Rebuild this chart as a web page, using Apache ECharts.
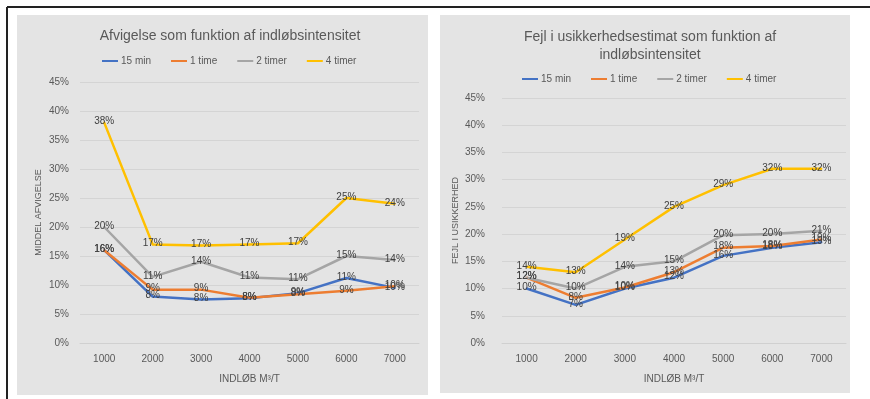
<!DOCTYPE html>
<html><head><meta charset="utf-8">
<script src="https://cdn.jsdelivr.net/npm/echarts@6/dist/echarts.min.js"></script>
<style>html,body{margin:0;padding:0;background:#fff}#c{width:870px;height:399px}</style>
</head><body><div id="c"></div>
<script>
const categories = ['1000','2000','3000','4000','5000','6000','7000'];
const seriesNames = ['15 min','1 time','2 timer','4 timer'];
const colors = ['#4472C4','#ED7D31','#A5A5A5','#FFC000'];
// Left chart: Afvigelse (%)
const left15min = [16, 8, 7.5, 7.7, 8.6, 11.2, 9.5];
const left1time = [16, 9.2, 9.2, 7.8, 8.4, 9, 9.8];
const left2timer = [20, 11.4, 14, 11.3, 11, 15, 14.3];
const left4timer = [38, 17, 16.8, 17, 17.2, 25, 24];
// Right chart: Fejl i usikkerhed (%)
const right15min = [10, 7, 10, 12, 16, 17.5, 18.5];
const right1time = [12, 8.3, 10.2, 13, 17.5, 17.8, 19];
const right2timer = [12, 10, 14, 15, 19.8, 20, 20.6];
const right4timer = [14, 13, 19, 25, 29, 32, 32];
const yTicks = [0,5,10,15,20,25,30,35,40,45];

const leftData = [left15min, left1time, left2timer, left4timer];
const rightData = [right15min, right1time, right2timer, right4timer];
const font = 'Liberation Sans';
const txt = '#595959';

function yAxis(gi, name){
  return {gridIndex: gi, type:'value', min:0, max:45, interval:5,
    name: name, nameLocation:'middle', nameRotate:90, nameGap: gi===0?37:42,
    nameTextStyle:{fontFamily:font,fontSize:9,color:txt},
    axisLabel:{formatter:v=>v+'%', fontFamily:font, fontSize:10, color:txt, margin: gi===0?11:17},
    axisLine:{show:false}, axisTick:{show:false},
    splitLine:{lineStyle:{color:'#d4d4d4',width:1}}};
}
function xAxis(gi){
  return {gridIndex: gi, type:'category', data: categories,
    name:'INDLØB M³/T', nameLocation:'middle', nameGap: 31,
    nameTextStyle:{fontFamily:font,fontSize:10,color:txt},
    axisLabel:{fontFamily:font, fontSize:10, color:txt, margin:11},
    axisLine:{lineStyle:{color:'#d0d0d0'}}, axisTick:{show:false}};
}
const series = [];
[leftData, rightData].forEach((d, gi)=>{
  d.forEach((vals, i)=>{
    series.push({type:'line', name: seriesNames[i], xAxisIndex: gi, yAxisIndex: gi,
      data: vals, symbol:'circle', symbolSize:2, showSymbol:true,
      lineStyle:{color: colors[i], width:2.5}, itemStyle:{color: colors[i]},
      label:{show:true, position:'top', distance:-5, formatter:p=>Math.round(p.value)+'%',
        fontFamily:font, fontSize:10, color:'#404040'},
      labelLayout:{hideOverlap:false}});
  });
});
const chart = echarts.init(document.getElementById('c'));
chart.setOption({
  animation:false,
  graphic:[
    {type:'rect', shape:{x:17,y:15,width:411,height:380}, style:{fill:'#e4e4e4'}, z:-10},
    {type:'rect', shape:{x:440,y:15,width:410,height:378}, style:{fill:'#e4e4e4'}, z:-10},
    {type:'line', shape:{x1:7,y1:7,x2:870,y2:7}, style:{stroke:'#222',lineWidth:2}},
    {type:'line', shape:{x1:7,y1:7,x2:7,y2:399}, style:{stroke:'#222',lineWidth:2}}
  ],
  title:[
    {text:'Afvigelse som funktion af indløbsintensitet', left:225, top:24, textAlign:'center',
      textStyle:{fontFamily:font,fontSize:14,fontWeight:'normal',color:txt}},
    {text:'Fejl i usikkerhedsestimat som funktion af\nindløbsintensitet', left:645, top:23, textAlign:'center',
      textStyle:{fontFamily:font,fontSize:14,fontWeight:'normal',color:txt,lineHeight:18}}
  ],
  legend:[
    {data: seriesNames, left:97, top:51, width:400, icon:'rect', itemWidth:16, itemHeight:2, itemGap:20,
      textStyle:{fontFamily:font,fontSize:10,color:txt,padding:[0,0,0,-2]}},
    {data: seriesNames, left:517, top:69, width:400, icon:'rect', itemWidth:16, itemHeight:2, itemGap:20,
      textStyle:{fontFamily:font,fontSize:10,color:txt,padding:[0,0,0,-2]}}
  ],
  grid:[
    {left:80, right:870-419, top:82, bottom:399-343},
    {left:502, right:870-846, top:98, bottom:399-343}
  ],
  xAxis:[xAxis(0), xAxis(1)],
  yAxis:[yAxis(0,'MIDDEL AFVIGELSE'), yAxis(1,'FEJL I USIKKERHED')],
  series: series
});
</script></body></html>
